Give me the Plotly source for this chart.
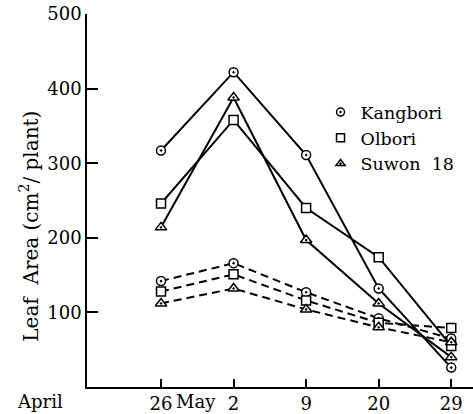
import plotly.graph_objects as go

dates = ["26", "2", "9", "20", "29"]
xpos = [0, 1, 2, 3, 4]

# solid lines
kangbori_solid = [317, 422, 311, 132, 26]
olbori_solid = [246, 358, 240, 174, 55]
suwon_solid = [214, 388, 197, 112, 40]
# dashed lines
kangbori_dash = [142, 166, 127, 92, 65]
olbori_dash = [128, 151, 116, 86, 79]
suwon_dash = [112, 132, 104, 80, 60]

names = ["Kangbori", "Olbori", "Suwon  18"]
symbols = ["circle-dot", "square", "triangle-up-dot"]
sizes = [9, 9, 10]

FONT = "DejaVu Serif"
fig = go.Figure()

solid = [kangbori_solid, olbori_solid, suwon_solid]
dashed = [kangbori_dash, olbori_dash, suwon_dash]

for i in range(3):
    fig.add_trace(go.Scatter(
        x=xpos, y=solid[i], mode="lines+markers", showlegend=False,
        line=dict(color="black", width=2),
        marker=dict(symbol=symbols[i], size=sizes[i], color="white",
                    line=dict(color="black", width=1.5)),
        cliponaxis=False))
    fig.add_trace(go.Scatter(
        x=xpos, y=dashed[i], mode="lines+markers", showlegend=False,
        line=dict(color="black", width=2, dash="8px,5px"),
        marker=dict(symbol=symbols[i], size=sizes[i], color="white",
                    line=dict(color="black", width=1.5)),
        cliponaxis=False))

for i in range(3):
    fig.add_trace(go.Scatter(
        x=[None], y=[None], mode="markers", name=names[i],
        marker=dict(symbol=symbols[i], size=8, color="white",
                    line=dict(color="black", width=1.5))))

fig.update_layout(
    width=473, height=414,
    margin=dict(l=87, r=0, t=14, b=27),
    paper_bgcolor="white", plot_bgcolor="white",
    font=dict(family=FONT, size=18, color="black"),
    legend=dict(x=0.605, y=0.785, xanchor="left", yanchor="top",
                bgcolor="rgba(0,0,0,0)", font=dict(size=17.5),
                itemwidth=30, tracegroupgap=0),
    xaxis=dict(range=[-1.02, 4.3], tickvals=xpos, ticktext=dates,
               showgrid=False, zeroline=False, showline=True,
               linecolor="black", linewidth=1.5,
               ticks="inside", ticklen=8, tickcolor="black", tickwidth=1.5,
               tickfont=dict(size=18)),
    yaxis=dict(range=[0, 500], tickvals=[100, 200, 300, 400, 500],
               showgrid=False, zeroline=False, showline=True,
               linecolor="black", linewidth=1.5,
               ticks="inside", ticklen=11, tickcolor="black", tickwidth=1.5,
               tickfont=dict(size=18)),
    annotations=[
        dict(text="April", xref="paper", yref="paper", x=-0.057, y=0,
             xanchor="right", yanchor="top", yshift=-2, showarrow=False,
             font=dict(size=18)),
        dict(text="May", xref="paper", yref="paper", x=0.339, y=0,
             xanchor="right", yanchor="top", yshift=-2, showarrow=False,
             font=dict(size=18)),
        dict(text="Leaf  Area (cm<sup>2</sup>/ plant)", xref="paper", yref="paper",
             x=-0.15, y=0.43, xanchor="center", yanchor="middle",
             textangle=-90, showarrow=False, font=dict(size=20)),
    ],
)

fig.write_html("out.html")
